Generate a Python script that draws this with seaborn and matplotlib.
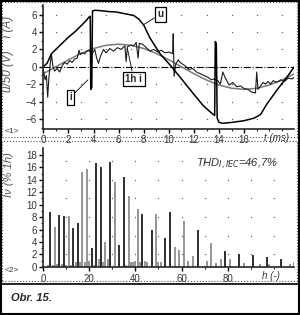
import numpy as np
import pandas as pd
import matplotlib
matplotlib.use('Agg')
import matplotlib.pyplot as plt
from matplotlib.patches import Rectangle
from matplotlib.lines import Line2D
import seaborn as sns

# --- waveforms (t in ms) ---
u_t = [0, 0.3, 0.65, 1.0, 1.5, 2.0, 2.5, 3.0, 3.4, 3.7, 3.74, 3.78, 3.86, 3.92, 4.1, 4.6,
       5.2, 5.8, 6.5, 7.2, 7.6, 8.0, 8.5, 9.3, 10.1, 10.9, 11.9, 12.7, 13.3, 13.65, 13.7,
       13.78, 13.85, 14.0, 14.3, 15.0, 16.0, 16.8, 17.3, 17.8, 18.6, 19.4, 20.0]
u_v = [0, 0.4, 1.5, 2.0, 2.7, 3.4, 4.0, 4.7, 5.3, 5.8, 5.8, -2.6, -2.4, 6.4, 6.5, 6.45,
       6.35, 6.3, 6.1, 5.9, 5.5, 4.8, 3.3, 1.5, 0.2, -1.2, -3.0, -4.4, -5.2, -5.6, 2.9,
       2.7, -5.9, -6.4, -6.5, -6.4, -6.2, -5.9, -5.5, -4.3, -2.7, -1.2, 0.0]

i_t = [0.0, 0.15, 0.25, 0.35, 0.45, 0.55, 0.65, 0.75, 0.9, 1.1, 1.3, 1.5, 1.7, 1.9, 2.1,
       2.3, 2.5, 2.7, 2.85, 2.95, 3.1, 3.3, 3.45, 3.6, 3.9, 4.1, 4.25, 4.4, 4.55, 4.8,
       5.0, 5.3, 5.6, 5.9, 6.2, 6.5, 6.6, 6.7, 7.0, 7.2, 7.4, 7.55, 7.65, 7.9, 8.2, 8.5,
       8.8, 9.1, 9.4, 9.7, 10.0, 10.3, 10.35, 10.42, 10.55, 10.75, 10.9, 11.1, 11.3, 11.6,
       11.9, 12.2, 12.5, 12.8, 13.1, 13.4, 13.6, 13.9, 14.1, 14.3, 14.5, 14.8, 15.1, 15.4,
       15.7, 16.0, 16.3, 16.6, 16.9, 17.0, 17.1, 17.3, 17.5, 17.7, 17.9, 18.1, 18.3, 18.6,
       18.9, 19.2, 19.5, 19.8, 20.0]
i_v = [-0.3, -1.5, -1.0, -3.5, -1.2, 0.3, 1.4, 0.2, -0.5, -0.2, -0.6, 0.1, 0.5, 0.3, 0.7,
       0.5, 0.9, 1.0, 1.9, 1.4, 1.6, 1.5, 1.8, 1.9, 1.5, 2.0, 1.0, 0.4, 1.2, 2.0,
       1.6, 2.1, 1.8, 2.2, 2.0, 2.4, 0.6, 2.3, 2.5, 2.4, 2.8, 1.0, 2.7, 2.6, 2.2, 1.8,
       2.0, 1.7, 1.9, 1.6, 1.7, 1.5, 3.8, -1.1, 0.3, 0.8, 0.5, 0.3, 0.1, -0.3,
       -0.2, -0.6, -0.8, -1.0, -1.2, -1.5, -1.4, -1.6, -2.0, -0.6, -1.3, -2.1, -1.8, -2.3,
       -2.2, -2.5, -2.6, -2.9, -3.0, -0.6, -2.6, -2.2, -1.8, -2.0, -1.7, -2.0, -1.6, -1.8,
       -1.5, -1.7, -1.3, -1.4, -1.2]

h1_t = [0, 1, 2, 3, 4, 5, 6, 7, 8, 9, 10, 11, 12, 13, 14, 15, 16, 17, 18, 19, 20]
h1_v = [-0.80, 0.00, 0.80, 1.53, 2.10, 2.47, 2.60, 2.47, 2.10, 1.53, 0.80, 0.00,
        -0.80, -1.53, -2.10, -2.47, -2.60, -2.47, -2.10, -1.53, -0.80]

# --- harmonic spectrum (% of 1h) ---
harm = [2, 3, 4, 5, 6, 7, 8, 9, 10, 11, 12, 13, 14, 15, 16, 17, 18, 19, 20, 21, 22, 23,
        24, 25, 26, 27, 28, 29, 31, 33, 35, 36, 37, 38, 39, 40, 41, 42, 43, 44, 45, 47,
        49, 50, 51, 53, 55, 57, 59, 61, 63, 65, 67, 71, 73, 75, 77, 79, 81, 85, 87, 91,
        94, 97, 98, 103, 107, 109]
level = [0.3, 8.8, 0.3, 6.4, 0.5, 8.4, 0.4, 8.1, 0.3, 8.1, 0.3, 6.2, 0.8, 7.0, 0.8, 15.3,
         0.8, 15.8, 1.0, 3.1, 0.3, 16.7, 1.2, 16.0, 0.7, 4.0, 1.3, 16.9, 13.6, 3.5, 14.4,
         0.3, 11.4, 0.8, 0.7, 1.0, 9.3, 0.8, 8.5, 1.0, 0.7, 6.0, 8.5, 0.8, 0.7, 4.6, 8.8,
         3.2, 2.7, 7.4, 1.0, 1.7, 5.9, 0.9, 3.8, 0.6, 1.2, 2.5, 1.2, 2.1, 0.6, 1.9, 0.5,
         1.6, 0.4, 1.3, 0.4, 0.8]
tone = ['g', 'd', 'g', 'g', 'g', 'd', 'g', 'd', 'g', 'g', 'g', 'd', 'g', 'd', 'g', 'g',
        'g', 'g', 'g', 'd', 'g', 'd', 'g', 'd', 'g', 'g', 'g', 'd', 'g', 'd', 'd',
        'g', 'g', 'g', 'g', 'g', 'g', 'g', 'd', 'g', 'g', 'd', 'g', 'g', 'g', 'd', 'd',
        'g', 'g', 'g', 'g', 'g', 'd', 'g', 'g', 'g', 'g', 'd', 'g', 'd', 'g', 'd', 'g',
        'd', 'g', 'd', 'g', 'g']
tone_colors = {'d': '#1e1e1e', 'g': '#8c8c8c'}

sns.set_style("ticks")
plt.rcParams['font.family'] = ['Liberation Sans', 'DejaVu Sans']
plt.rcParams['axes.linewidth'] = 1.2

fig = plt.figure(figsize=(3.0, 3.15), dpi=100)
ax1 = fig.add_axes([0.1443, 0.592, 0.837, 0.392])
ax2 = fig.add_axes([0.1443, 0.151, 0.837, 0.379])

txt = '#333333'

# top panel: waveforms
ax1.axhline(0, color='black', lw=0.8, ls='-.')
sns.lineplot(x=h1_t, y=h1_v, ax=ax1, color='#7a7a7a', lw=1.1, estimator=None, sort=False)
sns.lineplot(x=i_t, y=i_v, ax=ax1, color='#1a1a1a', lw=0.8, estimator=None, sort=False)
sns.lineplot(x=u_t, y=u_v, ax=ax1, color='black', lw=1.1, estimator=None, sort=False)

ax1.set_xlim(0, 20)
ax1.set_ylim(-7.1, 7.1)
ax1.set_xticks(range(0, 17, 2))
ax1.set_xticks(range(0, 20, 1), minor=True)
ax1.set_yticks(range(-6, 7, 2))
ax1.set_yticks(range(-7, 8, 1), minor=True)
gx, gy = np.meshgrid(np.arange(1, 20, 2), np.arange(-6, 7, 2))
ax1.scatter(gx.ravel(), gy.ravel(), s=1.0, color='#666666', lw=0)
ax1.set_ylabel('u/50 (V)    i (A)', fontsize=8.5, color='#555555', style='italic')
ax1.text(18.6, -7.6, 't (ms)', fontsize=7, style='italic', color=txt, ha='center', va='top')

box = dict(boxstyle='square,pad=0.25', fc='white', ec='black', lw=0.9)
arrow = dict(arrowstyle='-', color='black', lw=0.6, shrinkA=0, shrinkB=0)
ax1.annotate('u', xy=(7.94, 4.8), xytext=(9.33, 6.05), fontsize=7, fontweight='bold',
             ha='center', va='center', bbox=box, arrowprops=arrow)
ax1.annotate('i', xy=(3.56, -1.5), xytext=(2.17, -3.5), fontsize=7, fontweight='bold',
             ha='center', va='center', bbox=box, arrowprops=arrow)
ax1.annotate('1h i', xy=(6.7, 2.1), xytext=(7.2, -1.4), fontsize=7, fontweight='bold',
             ha='center', va='center', bbox=box, arrowprops=arrow)

# bottom panel: harmonic spectrum, thin spectral lines
spec = pd.DataFrame({'h': harm, 'level': level, 'tone': tone})
for key, grp in spec.groupby('tone'):
    ax2.vlines(grp['h'], 0, grp['level'], colors=tone_colors[key], lw=1.3)
ax2.set_xlim(0, 109)
ax2.set_ylim(-0.1, 19.1)
ax2.set_xticks(range(0, 81, 20))
ax2.set_xticks(range(0, 109, 10), minor=True)
ax2.set_yticks(range(0, 19, 2))
ax2.set_yticks(range(0, 19, 1), minor=True)
gx2, gy2 = np.meshgrid(np.arange(10, 109, 10), np.arange(2, 18, 3))
ax2.scatter(gx2.ravel(), gy2.ravel(), s=1.0, color='#666666', lw=0)
ax2.set_xlabel('')
ax2.set_ylabel('Iν (% 1h)', fontsize=8, color='#555555', style='italic')
ax2.text(99, -0.7, 'h (-)', fontsize=7, style='italic', color=txt, ha='center', va='top')
ax2.text(84, 16.4, 'THD$_{I,IEC}$=46,7%', fontsize=8, style='italic', color='#333333',
         ha='center', va='center')

for ax in (ax1, ax2):
    sns.despine(ax=ax)
    ax.tick_params(axis='both', which='major', labelsize=7, length=3, width=1, colors='black',
                   labelcolor=txt, pad=1.5)
    ax.tick_params(axis='both', which='minor', length=1.5, width=0.8)
ax1.yaxis.set_label_coords(-0.115, 0.6)
ax2.yaxis.set_label_coords(-0.115, 0.78)

# panel numbers
fig.text(0.017, 1 - 131 / 315, '<1>', fontsize=6, color=txt, va='center')
fig.text(0.017, 1 - 270 / 315, '<2>', fontsize=6, color=txt, va='center')

# dotted panel frames, caption strip and outer border
for y0, h in [(1 - 137 / 315, 135 / 315), (1 - 281 / 315, 140 / 315)]:
    fig.patches.append(Rectangle((2 / 300, y0), 295 / 300, h, transform=fig.transFigure,
                                 fill=False, ls=':', lw=0.8, ec='#555555'))
fig.lines.append(Line2D([0, 1], [1 - 284 / 315] * 2, transform=fig.transFigure,
                        color='black', lw=1.2))
fig.patches.append(Rectangle((0.002, 0.002), 0.996, 0.996, transform=fig.transFigure,
                             fill=False, ec='black', lw=1.5))
fig.text(0.035, 1 - 298 / 315, 'Obr. 15.', fontsize=8, fontweight='bold', style='italic',
         va='center')

fig.savefig('out.png', dpi=100)
